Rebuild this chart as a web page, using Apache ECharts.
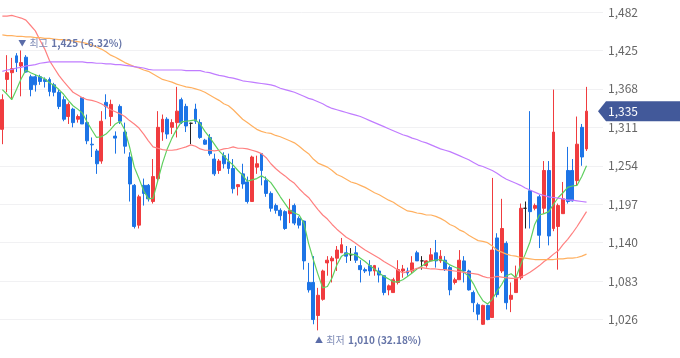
<!DOCTYPE html>
<html><head><meta charset="utf-8">
<script src="https://cdn.jsdelivr.net/npm/echarts@6/dist/echarts.min.js"></script>
<style>html,body{margin:0;padding:0;background:#fff}#c{width:680px;height:358px}</style>
</head><body><div id="c"></div>
<script>
const opens=[1308,1382,1392,1417,1402,1415,1386,1386,1386,1382,
1382,1374,1363,1352,1327,1338,1323,1355,1318,1286,
1276,1261,1348,1327,1298,1342,1304,1267,1225,1166,
1225,1225,1201,1235,1304,1323,1311,1318,1352,1342,
1317,1338,1318,1292,1296,1264,1247,1269,1260,1250,
1223,1242,1230,1201,1252,1272,1232,1213,1195,1188,
1186,1183,1195,1176,1172,1081,1081,1032,1056,1110,
1113,1117,1125,1125,1122,1125,1106,1100,1106,1098,
1098,1091,1070,1066,1081,1098,1098,1098,1125,1113,
1106,1113,1125,1113,1114,1103,1081,1085,1113,1098,
1066,1048,1019,1047,1029,1147,1098,1139,1056,1066,
1088,1191,1217,1191,1208,1191,1247,1161,1164,1183,
1247,1247,1232,1311,1279];
const closes=[1352,1392,1398,1407,1407,1393,1367,1374,1379,1379,
1364,1363,1342,1323,1345,1318,1327,1316,1291,1285,
1257,1320,1342,1345,1295,1320,1283,1227,1164,1208,
1213,1205,1238,1311,1323,1301,1318,1335,1318,1313,
1317,1320,1296,1286,1272,1242,1261,1257,1250,1220,
1226,1227,1201,1267,1257,1247,1213,1191,1188,1180,
1161,1188,1169,1166,1113,1070,1026,1062,1098,1114,
1117,1129,1137,1120,1122,1114,1100,1098,1098,1106,
1092,1066,1076,1085,1100,1101,1095,1110,1113,1113,
1113,1122,1113,1120,1100,1070,1085,1114,1098,1070,
1051,1034,1047,1026,1129,1063,1161,1051,1062,1088,
1191,1191,1186,1195,1151,1247,1150,1304,1195,1205,
1201,1202,1286,1267,1335];
const lows=[1286,1363,1352,1393,1357,1392,1357,1364,1374,1370,
1357,1357,1338,1320,1316,1311,1318,1316,1286,1267,
1242,1257,1323,1313,1272,1316,1272,1201,1161,1161,
1195,1201,1198,1232,1291,1294,1301,1296,1316,1304,
1286,1316,1294,1285,1269,1239,1242,1250,1242,1213,
1210,1220,1198,1201,1242,1225,1208,1186,1183,1173,
1159,1169,1166,1161,1100,1066,1019,1010,1054,1091,
1081,1098,1125,1110,1113,1110,1081,1095,1091,1091,
1081,1062,1062,1066,1078,1088,1091,1095,1113,1100,
1103,1113,1103,1110,1098,1062,1078,1085,1081,1069,
1037,1025,1018,1025,1029,1059,1095,1041,1037,1066,
1085,1161,1161,1188,1132,1183,1136,1157,1100,1183,
1198,1201,1225,1254,1276];
const highs=[1360,1418,1414,1421,1425,1418,1389,1389,1389,1385,
1385,1377,1367,1357,1348,1340,1330,1355,1330,1296,
1279,1335,1360,1352,1305,1345,1318,1274,1227,1211,
1235,1227,1264,1335,1330,1326,1323,1371,1355,1346,
1318,1346,1323,1294,1301,1272,1264,1274,1272,1264,
1227,1257,1238,1269,1269,1272,1238,1216,1198,1191,
1188,1205,1198,1179,1173,1110,1120,1073,1100,1120,
1120,1135,1147,1135,1132,1135,1114,1103,1114,1107,
1103,1092,1078,1088,1114,1107,1103,1120,1128,1120,
1114,1132,1144,1129,1120,1106,1088,1129,1120,1100,
1069,1051,1048,1048,1236,1154,1205,1142,1081,1106,
1198,1201,1335,1198,1211,1261,1261,1367,1198,1230,
1282,1264,1327,1316,1371];
const ma5=[1367,1360,1352,1367,1383,1396,1392,1389,1386,1383,
1377,1373,1367,1360,1351,1343,1338,1332,1319,1307,
1296,1297,1301,1308,1316,1320,1307,1282,1252,1235,
1217,1205,1206,1232,1258,1279,1295,1308,1319,1320,
1321,1322,1316,1305,1296,1286,1276,1269,1261,1255,
1247,1240,1231,1233,1235,1239,1235,1229,1219,1208,
1198,1188,1184,1181,1169,1139,1115,1093,1073,1075,
1088,1107,1120,1124,1123,1122,1117,1112,1106,1101,
1095,1090,1086,1082,1082,1085,1090,1095,1101,1105,
1110,1113,1114,1115,1112,1107,1104,1101,1096,1090,
1079,1065,1054,1049,1056,1068,1078,1091,1094,1088,
1107,1123,1141,1167,1181,1183,1186,1197,1207,1214,
1222,1224,1225,1238,1254];
const ma20=[1476,1476,1477,1475,1473,1470,1462,1454,1440,1427,
1410,1399,1388,1379,1371,1363,1359,1355,1352,1351,
1349,1346,1342,1337,1334,1331,1327,1321,1316,1310,
1301,1291,1282,1280,1278,1277,1277,1278,1280,1282,
1285,1283,1279,1277,1277,1276,1277,1279,1280,1282,
1280,1280,1279,1277,1275,1272,1266,1257,1250,1244,
1239,1233,1228,1220,1213,1207,1198,1189,1181,1175,
1167,1160,1154,1148,1144,1139,1134,1129,1125,1121,
1117,1112,1108,1104,1099,1095,1097,1099,1102,1103,
1102,1101,1101,1100,1100,1099,1098,1097,1096,1095,
1094,1093,1090,1088,1088,1090,1089,1088,1087,1087,
1089,1092,1096,1101,1106,1112,1117,1123,1128,1137,
1145,1154,1164,1175,1186];
const ma60=[1448,1447,1447,1446,1446,1445,1445,1444,1444,1443,
1443,1442,1441,1441,1440,1439,1438,1437,1435,1433,
1430,1427,1423,1418,1415,1411,1407,1404,1401,1399,
1396,1394,1390,1386,1382,1380,1378,1375,1373,1371,
1370,1368,1366,1363,1359,1355,1351,1346,1343,1337,
1330,1323,1318,1313,1308,1305,1303,1302,1299,1297,
1294,1291,1288,1283,1277,1272,1264,1258,1255,1252,
1247,1241,1238,1234,1230,1228,1225,1222,1218,1214,
1211,1207,1203,1200,1195,1191,1187,1186,1184,1183,
1181,1181,1179,1176,1172,1167,1164,1159,1156,1151,
1147,1143,1142,1140,1135,1129,1126,1123,1121,1120,
1118,1117,1116,1115,1115,1115,1115,1115,1116,1116,
1117,1117,1118,1120,1123];
const ma120=[1394,1396,1397,1399,1400,1402,1403,1404,1406,1407,
1408,1408,1408,1408,1408,1408,1408,1408,1407,1407,
1406,1406,1405,1405,1404,1404,1403,1402,1401,1400,
1399,1397,1396,1396,1396,1396,1396,1396,1396,1395,
1395,1395,1395,1393,1392,1390,1388,1387,1385,1384,
1382,1380,1379,1378,1377,1376,1375,1374,1372,1369,
1367,1365,1363,1360,1357,1354,1352,1349,1346,1342,
1339,1337,1335,1333,1331,1329,1327,1324,1321,1318,
1315,1312,1309,1306,1303,1300,1298,1295,1293,1290,
1288,1285,1282,1279,1277,1275,1272,1269,1266,1263,
1259,1255,1253,1250,1247,1243,1238,1234,1231,1228,
1225,1221,1218,1215,1212,1210,1208,1207,1206,1205,
1203,1203,1202,1201,1200];
const yTicks=[1026,1083,1140,1197,1254,1311,1368,1425,1482];
const emptySlots=3;
const categories=opens.map((_,i)=>'D'+(i+1)).concat(Array.from({length:emptySlots},(_,i)=>''));

const fmt=v=>Math.round(v).toLocaleString('en-US');
const step=yTicks[1]-yTicks[0];
const lastIdx=closes.length-1, last=closes[lastIdx];
const hiVal=Math.max(...highs), hiIdx=highs.indexOf(hiVal);
const loVal=Math.min(...lows), loIdx=lows.indexOf(loVal);
const pct=v=>((last-v)/v*100).toFixed(2);
const FONT='"Noto Sans CJK KR","Noto Sans",sans-serif';
const labelRich={
  a:{fontSize:8,color:'#5a6ca8',fontFamily:FONT},
  b:{fontSize:10,color:'#7f8cb6',fontFamily:FONT},
  c:{fontSize:10,color:'#6675a8',fontWeight:'bold',fontFamily:FONT}
};
const chart=echarts.init(document.getElementById('c'));
chart.setOption({
  animation:false,
  backgroundColor:'#fff',
  grid:{left:0,right:77,top:12,bottom:-3},
  xAxis:{type:'category',data:categories,boundaryGap:true,show:false},
  yAxis:{type:'value',position:'right',min:yTicks[0]-step,max:yTicks[yTicks.length-1],interval:step,
    axisLine:{show:false},axisTick:{show:false},
    splitLine:{lineStyle:{color:'#f1f1f3',width:1}},
    axisLabel:{showMinLabel:false,color:'#666',fontSize:12,margin:5,fontFamily:FONT,formatter:v=>fmt(v)}},
  series:[
    {type:'candlestick',data:opens.map((o,i)=>[o,closes[i],lows[i],highs[i]]),barWidth:3.4,
      itemStyle:{color:'#f03c3f',color0:'#1d74e6',borderColor:'#f03c3f',borderColor0:'#1d74e6',borderColorDoji:'#222',borderWidth:1},
      markPoint:{symbol:'circle',symbolSize:1,itemStyle:{color:'rgba(0,0,0,0)'},
        label:{show:true,position:'inside',align:'left',verticalAlign:'middle',rich:labelRich},
        data:[
          {coord:[hiIdx,hiVal],label:{offset:[-3,-7],formatter:'{a|▼} {b|최고} {c|'+fmt(hiVal)+' ('+pct(hiVal)+'%)}'}},
          {coord:[loIdx,loVal],label:{offset:[-3,10],formatter:'{a|▲} {b|최저} {c|'+fmt(loVal)+' ('+pct(loVal)+'%)}'}}
        ]}},
    {type:'line',data:ma5,symbol:'none',silent:true,lineStyle:{width:1.2,color:'#5fcf5f'},itemStyle:{color:'#5fcf5f'}},
    {type:'line',data:ma20,symbol:'none',silent:true,lineStyle:{width:1.2,color:'#ff8080'},itemStyle:{color:'#ff8080'}},
    {type:'line',data:ma60,symbol:'none',silent:true,lineStyle:{width:1.2,color:'#ffb060'},itemStyle:{color:'#ffb060'}},
    {type:'line',data:ma120,symbol:'none',silent:true,lineStyle:{width:1.2,color:'#c07cff'},itemStyle:{color:'#c07cff'}},
    {type:'custom',data:[[lastIdx,last]],clip:false,silent:true,z:10,
      renderItem:(params,api)=>{
        const p=api.coord([api.value(0),api.value(1)]);
        const cs=params.coordSys; const xr=cs.x+cs.width; const y=p[1]; const W=api.getWidth();
        return {type:'group',children:[
          {type:'polygon',shape:{points:[[xr-5,y],[xr+3,y-10],[W,y-10],[W,y+10],[xr+3,y+10]]},style:{fill:'#42599a'}},
          {type:'text',style:{text:fmt(api.value(1)),x:xr+5,y:y,fill:'#fff',font:'12px '+FONT,verticalAlign:'middle',align:'left'}}
        ]};
      }}
  ]
});
</script></body></html>
